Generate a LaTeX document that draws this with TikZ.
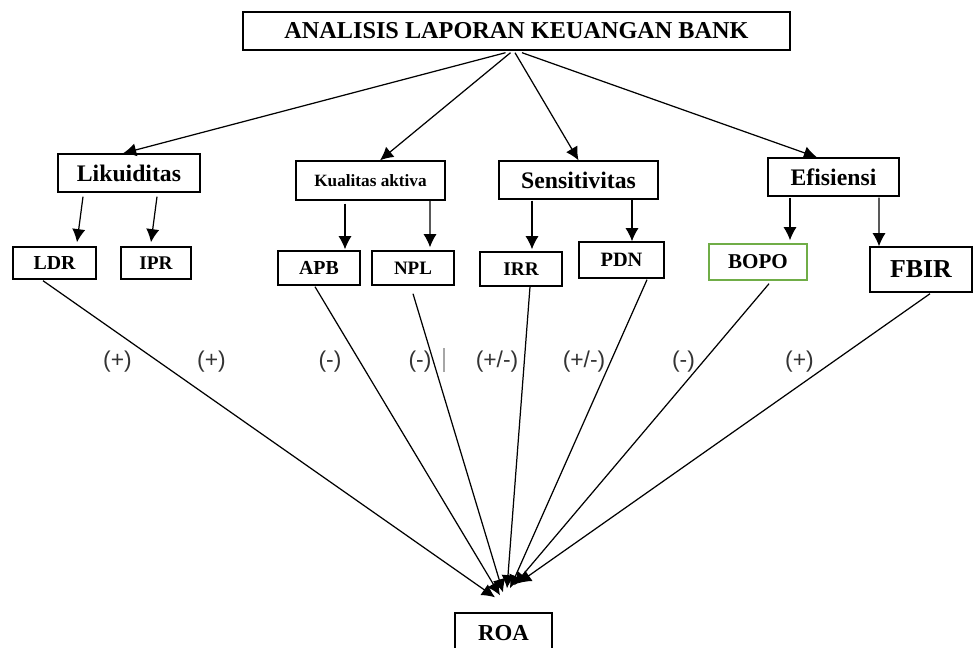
\documentclass[tikz,border=0pt]{standalone}
\usepackage{fontspec}
\setmainfont{Liberation Serif}
\newfontfamily\signfont{Liberation Sans}
\usetikzlibrary{arrows.meta,calc}
\definecolor{boxgreen}{RGB}{112,173,71}
\tikzset{
  box/.style={draw,line width=0.8pt,inner sep=0pt,font=\fontsize{#1}{#1}\selectfont\bfseries},
  box/.default=11,
  sign/.style={inner sep=0pt,text=black!80,font=\signfont\fontsize{13}{15}\selectfont},
}
\begin{document}
\begin{tikzpicture}[>={Latex[length=7.5pt,width=7.5pt]},x=0.02cm,y=-0.02cm,line width=0.7pt]
\useasboundingbox (0,0) rectangle (973,647);
% top
\node[box=13.8,minimum width=10.94cm,minimum height=0.76cm] (bank) at (516.5,31) {ANALISIS LAPORAN KEUANGAN BANK};
% first level
\node[box=13.5,minimum width=2.84cm,minimum height=0.76cm] (liq) at (129,173) {Likuiditas};
\node[box=9.8,minimum width=2.98cm,minimum height=0.78cm] (kual) at (370.5,180.5) {Kualitas aktiva};
\node[box=13.5,minimum width=3.18cm,minimum height=0.76cm] (sens) at (578.5,180) {Sensitivitas};
\node[box=13.5,minimum width=2.62cm,minimum height=0.76cm] (efis) at (833.5,177) {Efisiensi};
% second level
\node[box=11.3,minimum width=1.66cm,minimum height=0.64cm] (ldr) at (54.5,263) {LDR};
\node[box=11,minimum width=1.4cm,minimum height=0.64cm] (ipr) at (156,263) {IPR};
\node[box=11.3,minimum width=1.64cm,minimum height=0.68cm] (apb) at (319,268) {APB};
\node[box=10.8,minimum width=1.64cm,minimum height=0.68cm] (npl) at (413,268) {NPL};
\node[box=11,minimum width=1.64cm,minimum height=0.68cm] (irr) at (521,269) {IRR};
\node[box=11.6,minimum width=1.7cm,minimum height=0.72cm] (pdn) at (621.5,260) {PDN};
\node[box=12,draw=boxgreen,minimum width=1.96cm,minimum height=0.72cm] (bopo) at (758,262) {BOPO};
\node[box=14.7,minimum width=2.04cm,minimum height=0.9cm] (fbir) at (921,269.5) {FBIR};
% result
\node[box=13,minimum width=1.94cm,minimum height=0.8cm] (roa) at (503.5,633) {ROA};
% signs
\node[sign] (s1) at (117.5,362) {(+)};
\node[sign] (s2) at (211.5,362) {(+)};
\node[sign] (s3) at (330,362) {(-)};
\node[sign] (s4) at (420,362) {(-)};
\node[sign] (s5) at (497,362) {(+/-)};
\node[sign] (s6) at (584,362) {(+/-)};
\node[sign] (s7) at (683.5,362) {(-)};
\node[sign] (s8) at (799.5,362) {(+)};
\draw[black!35,line width=0.8pt] (444,348) -- (444,372);
% top arrows
\draw[->] ($(bank.south)+(-11,2)$) -- ($(liq.north)+(-6,0)$);
\draw[->] ($(bank.south)+(-6,2)$) -- ($(kual.north)+(9.5,0)$);
\draw[->] ($(bank.south)+(-1.5,2)$) -- (sens.north);
\draw[->] ($(bank.south)+(5.5,2)$) -- ($(efis.north)+(-16.5,0)$);
% first to second level
\draw[->] ($(liq.south)+(-46,4)$) -- ($(ldr.north)+(22.5,-4)$);
\draw[->] ($(liq.south)+(28,4)$) -- ($(ipr.north)+(-5,-4)$);
\draw[->] ($(kual.south)+(-25.5,3)$) -- ($(apb.north)+(26,-1)$);
\draw[->] ($(kual.south)+(59.5,0)$) -- ($(npl.north)+(17,-3)$);
\draw[->] ($(sens.south)+(-46.5,1)$) -- ($(irr.north)+(11,-2)$);
\draw[->] ($(sens.south)+(53.5,0)$) -- ($(pdn.north)+(10.5,0)$);
\draw[->] ($(efis.south)+(-43.5,1)$) -- ($(bopo.north)+(32,-3)$);
\draw[->] ($(efis.south)+(45.5,1)$) -- ($(fbir.north)+(-42,0)$);
% to ROA
\draw[->] ($(ldr.south)+(-11.5,1)$) -- ($(roa.north)+(-8.5,-15)$);
\draw[->] ($(apb.south)+(-4,1)$) -- ($(roa.north)+(-3.5,-17)$);
\draw[->] ($(npl.south)+(0,8)$) -- ($(roa.north)+(-0.5,-20)$);
\draw[->] ($(irr.south)+(9,0)$) -- ($(roa.north)+(3.5,-24)$);
\draw[->] ($(pdn.south)+(25.5,1)$) -- ($(roa.north)+(6.5,-24)$);
\draw[->] ($(bopo.south)+(11,3)$) -- ($(roa.north)+(10.5,-27)$);
\draw[->] ($(fbir.south)+(9,1)$) -- ($(roa.north)+(14.5,-29)$);
\end{tikzpicture}
\end{document}
